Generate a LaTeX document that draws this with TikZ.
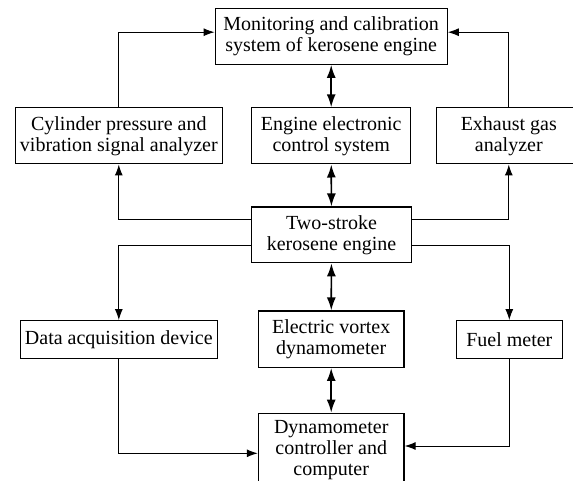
\documentclass[tikz,border=0pt]{standalone}
\usepackage{fontspec}
\setmainfont{Liberation Serif}
\usetikzlibrary{arrows.meta}
\tikzset{
  blk/.style={draw, line width=1.2pt, align=center, inner sep=0pt,
    font=\fontsize{20}{21}\selectfont},
  flow/.style={line width=1pt, -{Latex[length=11pt,width=8pt]}},
  both/.style={line width=1.7pt, {Latex[length=13pt,width=9pt]}-{Latex[length=13pt,width=9pt]}}
}
\begin{document}
\begin{tikzpicture}[x=1pt, y=-1pt]
  \clip (0,0) rectangle (573,481);

  % blocks
  \node[blk, minimum width=232pt, minimum height=56pt] (mon) at (331.2,36.2)
    {Monitoring and calibration\\system of kerosene engine};
  \node[blk, minimum width=207pt, minimum height=56pt] (cyl) at (118.8,135.9)
    {Cylinder pressure and\\vibration signal analyzer};
  \node[blk, minimum width=159pt, minimum height=56pt] (ecs) at (331.2,135.9)
    {Engine electronic\\control system};
  \node[blk, minimum width=144pt, minimum height=56pt] (exh) at (508.8,135.9)
    {Exhaust gas\\analyzer};
  \node[blk, minimum width=159.6pt, minimum height=55.7pt] (eng) at (331.5,234.9)
    {Two-stroke\\kerosene engine};
  \node[blk, minimum width=197pt, minimum height=37.6pt] (daq) at (118.8,339.5)
    {Data acquisition device};
  \node[blk, minimum width=145.7pt, minimum height=56.3pt] (vor) at (331.2,339.2)
    {Electric vortex\\dynamometer};
  \node[blk, minimum width=106pt, minimum height=37.6pt] (fuel) at (509.3,339.5)
    {Fuel meter};
  \node[blk, minimum width=145.7pt, minimum height=73pt] (ctl) at (331.2,449.8)
    {Dynamometer\\controller and\\computer};

  % two-way links along the centre column
  \draw[both] (mon) -- (ecs);
  \draw[both] (ecs) -- (eng);
  \draw[both] (eng) -- (vor);
  \draw[both] (vor) -- (ctl);

  % analyzers feed the monitoring system
  \draw[flow] (cyl.north) |- ([yshift=4pt]mon.west);
  \draw[flow] (exh.north) |- ([yshift=4pt]mon.east);

  % engine outputs
  \draw[flow] ([yshift=15pt]eng.west) -| (cyl.south);
  \draw[flow] ([yshift=15pt]eng.east) -| (exh.south);
  \draw[flow] ([yshift=-11pt]eng.west) -| (daq.north);
  \draw[flow] ([yshift=-11pt]eng.east) -| (fuel.north);

  % measurements into the controller
  \draw[flow] (daq.south) |- ([yshift=-3.5pt]ctl.west);
  \draw[flow] (fuel.south) |- ([yshift=3.8pt]ctl.east);
\end{tikzpicture}
\end{document}
